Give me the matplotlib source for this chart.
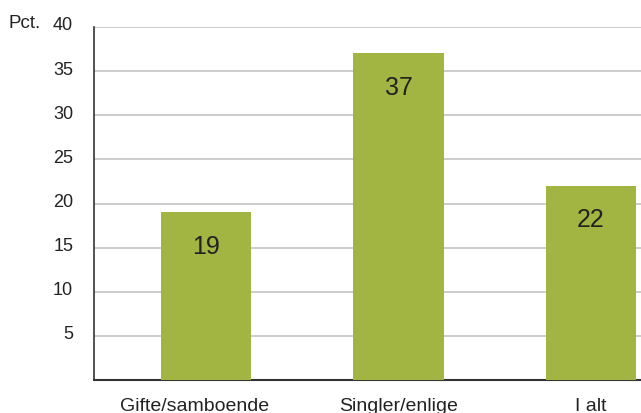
import matplotlib
matplotlib.use("Agg")
import matplotlib.pyplot as plt
import matplotlib.transforms as mtransforms

categories = ["Gifte/samboende", "Singler/enlige", "I alt"]
values = [19, 37, 22]
yticks = [5, 10, 15, 20, 25, 30, 35, 40]

plt.rcParams['font.family'] = ['Liberation Sans', 'DejaVu Sans']

fig = plt.figure(figsize=(6.41, 4.14), dpi=100)
ax = fig.add_axes([94/641, 1 - 381/414, 1 - 94/641, (381 - 28)/414])

x = list(range(len(categories)))
bars = ax.bar(x, values, width=0.468, color="#a2b542", zorder=3)

for xi, v in zip(x, values):
    ax.text(xi, v - 3.8, str(v), ha="center", va="center", fontsize=18, color="#222222", zorder=4)

ax.set_xlim(-0.582, 2.26)
ax.set_ylim(0, 40)
ax.set_yticks(yticks)
ax.set_yticklabels([str(t) for t in yticks], fontsize=13, color="#222222")
ax.set_xticks(x)
ax.set_xticklabels(categories, fontsize=14, color="#222222")
ax.tick_params(axis="y", length=0, pad=15)
ax.tick_params(axis="x", length=0, pad=12)

# y labels sit a little above their gridlines
up = mtransforms.ScaledTranslation(0, 4/100, fig.dpi_scale_trans)
for lab in ax.get_yticklabels():
    lab.set_transform(lab.get_transform() + up)
# first category label is shifted left of its bar
left = mtransforms.ScaledTranslation(-11/100, 0, fig.dpi_scale_trans)
lab0 = ax.get_xticklabels()[0]
lab0.set_transform(lab0.get_transform() + left)

ax.grid(axis="y", color="#c4c4c4", linewidth=1.2, zorder=0)
for s in ["top", "right"]:
    ax.spines[s].set_visible(False)
ax.spines["left"].set_color("#333333")
ax.spines["bottom"].set_color("#333333")
ax.spines["left"].set_linewidth(1.2)
ax.spines["bottom"].set_linewidth(1.5)

fig.text(8/641, 1 - 23/414, "Pct.", fontsize=13.5, color="#222222", va="center", ha="left")

fig.savefig("out.png", dpi=100)
